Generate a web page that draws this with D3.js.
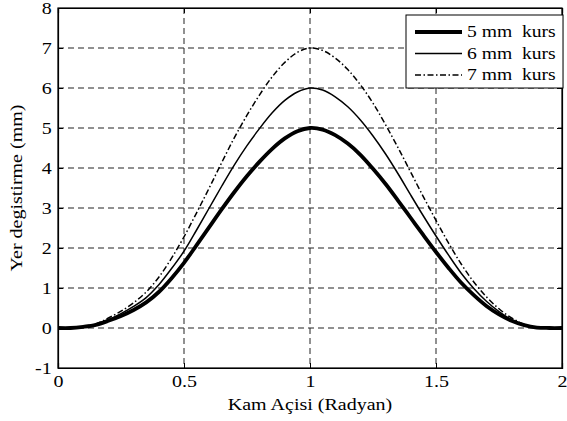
<!DOCTYPE html>
<html>
<head>
<meta charset="utf-8">
<script src="https://cdn.jsdelivr.net/npm/d3@7"></script>
<style>
  body { margin: 0; background: #fff; }
</style>
</head>
<body>
<div class="chart"></div>
<script>
// x values (radyan)
const angles = [0, 0.05, 0.1, 0.15, 0.2, 0.25, 0.3, 0.35, 0.4, 0.45, 0.5, 0.55, 0.6, 0.65, 0.7, 0.75, 0.8, 0.85, 0.9, 0.95, 1.0,
    1.05, 1.1, 1.15, 1.2, 1.25, 1.3, 1.35, 1.4, 1.45, 1.5, 1.55, 1.6, 1.65, 1.7, 1.75, 1.8, 1.85, 1.9, 1.95, 2.0];

const kurs5 = [0, 0, 0.03, 0.08, 0.18, 0.3, 0.45, 0.64, 0.9, 1.24, 1.63, 2.07, 2.52, 2.97, 3.4, 3.8, 4.16, 4.48, 4.74, 4.92, 5.0,
    4.96, 4.82, 4.61, 4.33, 3.98, 3.6, 3.18, 2.75, 2.32, 1.9, 1.5, 1.13, 0.82, 0.55, 0.34, 0.18, 0.07, 0.01, 0, 0];
const kurs6 = [0, 0, 0.03, 0.09, 0.21, 0.36, 0.54, 0.76, 1.08, 1.48, 1.92, 2.45, 3.0, 3.55, 4.08, 4.56, 4.99, 5.38, 5.69, 5.9, 6.0,
    5.95, 5.78, 5.53, 5.2, 4.8, 4.35, 3.85, 3.32, 2.8, 2.3, 1.82, 1.37, 0.99, 0.67, 0.41, 0.21, 0.08, 0.01, 0, 0];
const kurs7 = [0, 0, 0.04, 0.1, 0.25, 0.42, 0.63, 0.9, 1.27, 1.74, 2.28, 2.88, 3.5, 4.14, 4.76, 5.32, 5.83, 6.28, 6.64, 6.89, 7.0,
    6.94, 6.75, 6.46, 6.08, 5.62, 5.08, 4.5, 3.89, 3.28, 2.69, 2.12, 1.6, 1.15, 0.78, 0.48, 0.25, 0.09, 0.01, 0, 0];

const xTicks = [0, 0.5, 1, 1.5, 2];
const yTicks = [-1, 0, 1, 2, 3, 4, 5, 6, 7, 8];
const seriesNames = ["5 mm  kurs", "6 mm  kurs", "7 mm  kurs"];

const serif = "'Liberation Serif', 'Times New Roman', serif";
const stretch = 1.25; // the glyphs in the original are wide

let margin = {top: 8, right: 5, bottom: 53, left: 58};
let width = 567 - margin.left - margin.right;
let height = 421 - margin.top - margin.bottom;

let svg = d3.select(".chart").append("svg")
    .attr("width", 567)
    .attr("height", 421)
    .style("font-family", serif)
    .append("g")
    .attr("transform", `translate(${margin.left},${margin.top})`);

let x = d3.scaleLinear().domain([0, 2]).range([0, width]);
let y = d3.scaleLinear().domain([-1, 8]).range([height, 0]);

// grid
svg.selectAll(".gx")
    .data(xTicks.slice(1, -1)).enter()
    .append("line")
    .attr("x1", d => x(d)).attr("x2", d => x(d))
    .attr("y1", 0).attr("y2", height)
    .attr("stroke", "#222").attr("stroke-width", 1)
    .attr("stroke-dasharray", "6,4");
svg.selectAll(".gy")
    .data(yTicks.slice(1, -1)).enter()
    .append("line")
    .attr("y1", d => y(d)).attr("y2", d => y(d))
    .attr("x1", 0).attr("x2", width)
    .attr("stroke", "#222").attr("stroke-width", 1)
    .attr("stroke-dasharray", "6,4");

// curves
let series = [
    {name: seriesNames[0], values: kurs5, w: 3.8, dash: null},
    {name: seriesNames[1], values: kurs6, w: 1.5, dash: null},
    {name: seriesNames[2], values: kurs7, w: 1.5, dash: "6,2.5,1.5,2.5"}
];

let line = d3.line()
    .x(d => x(d[0]))
    .y(d => y(d[1]))
    .curve(d3.curveCatmullRom);

svg.selectAll(".curve")
    .data(series).enter()
    .append("path")
    .attr("class", "curve")
    .attr("d", s => line(angles.map((a, i) => [a, s.values[i]])))
    .attr("fill", "none")
    .attr("stroke", "#000")
    .attr("stroke-width", s => s.w)
    .attr("stroke-dasharray", s => s.dash);

// axes (ticks inside, matlab style)
let fmt = d => String(d);
svg.append("g")
    .attr("transform", `translate(0,${height})`)
    .call(d3.axisBottom(x).tickValues(xTicks).tickSize(-5).tickPadding(8).tickFormat(fmt));
svg.append("g")
    .call(d3.axisLeft(y).tickValues(yTicks).tickSize(-5).tickPadding(5).tickFormat(fmt));
svg.append("g")
    .attr("transform", `translate(${width},0)`)
    .call(d3.axisRight(y).tickValues(yTicks).tickSize(-5).tickFormat(""));
svg.append("g")
    .call(d3.axisTop(x).tickValues(xTicks).tickSize(-5).tickFormat(""));

svg.selectAll(".domain").attr("stroke", "#000").attr("stroke-width", 1.2);
svg.selectAll(".tick line").attr("stroke", "#000");
svg.selectAll("g").attr("font-family", serif);
svg.selectAll(".tick text")
    .attr("font-family", serif)
    .attr("font-size", 16)
    .attr("fill", "#000")
    .attr("transform", `scale(${stretch},1)`);

// box
svg.append("rect")
    .attr("width", width).attr("height", height)
    .attr("fill", "none").attr("stroke", "#000").attr("stroke-width", 1.2);

// axis labels
svg.append("text")
    .attr("transform", `translate(${width / 2},${height + 42}) scale(${stretch},1)`)
    .attr("text-anchor", "middle")
    .attr("font-family", serif)
    .attr("font-size", 16)
    .text("Kam Açisi (Radyan)");
svg.append("text")
    .attr("transform", `translate(${-36},${height / 2}) rotate(-90) scale(${stretch},1)`)
    .attr("text-anchor", "middle")
    .attr("font-family", serif)
    .attr("font-size", 16)
    .text("Yer degistirme (mm)");

// legend
let legend = svg.append("g").attr("transform", `translate(${348},${7})`);
legend.append("rect")
    .attr("width", 157).attr("height", 73)
    .attr("fill", "#fff").attr("stroke", "#000").attr("stroke-width", 1);
let rows = legend.selectAll(".row")
    .data(series).enter()
    .append("g")
    .attr("transform", (d, i) => `translate(0,${17 + i * 21.5})`);
rows.append("line")
    .attr("x1", 9).attr("x2", 56)
    .attr("stroke", "#000")
    .attr("stroke-width", d => d.w)
    .attr("stroke-dasharray", d => d.dash);
rows.append("text")
    .attr("transform", `translate(61,5) scale(${stretch * 0.98},1)`)
    .attr("font-family", serif)
    .attr("font-size", 16)
    .style("white-space", "pre")
    .text(d => d.name);
</script>
</body>
</html>
